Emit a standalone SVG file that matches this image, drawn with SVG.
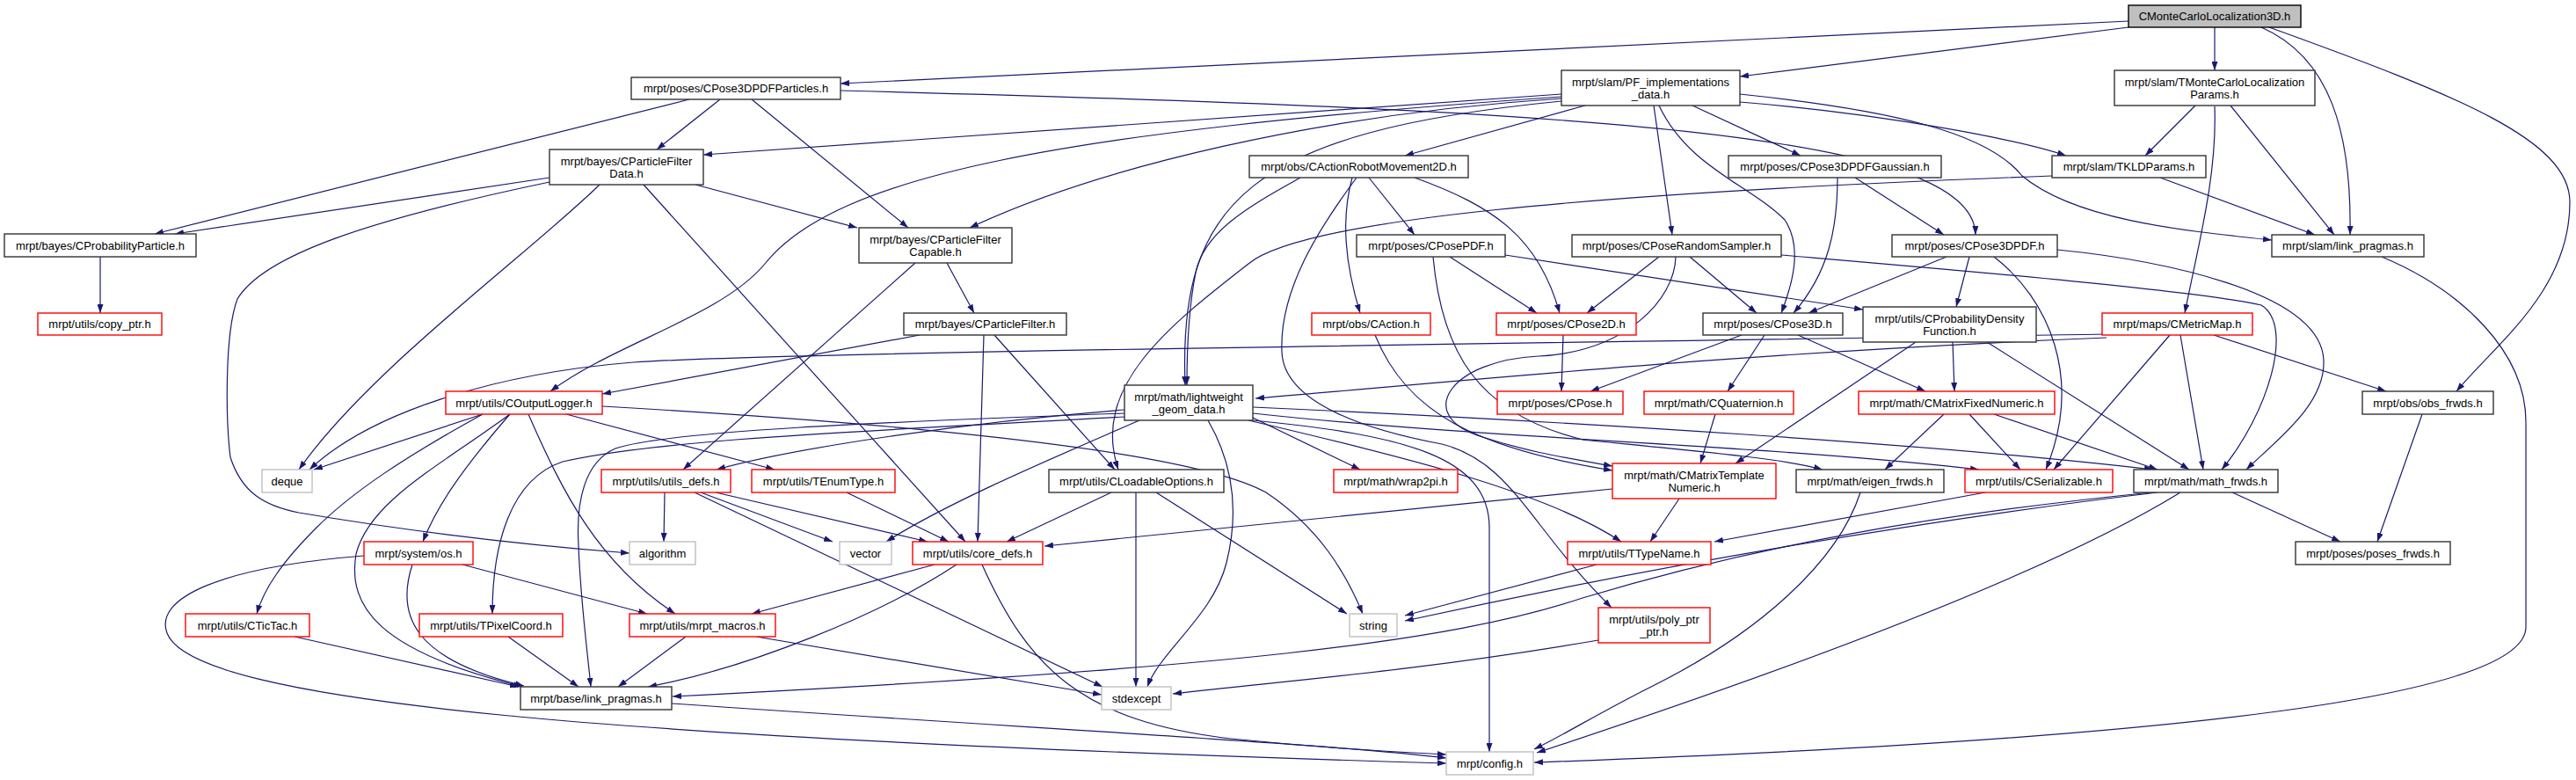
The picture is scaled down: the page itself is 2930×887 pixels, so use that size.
<svg xmlns="http://www.w3.org/2000/svg" width="2930" height="887" viewBox="0 0 2930 887">
<defs>
<marker id="ah" viewBox="0 0 10 7" refX="10" refY="3.5" markerWidth="10" markerHeight="7" markerUnits="userSpaceOnUse" orient="auto"><path d="M0,0 L10,3.5 L0,7 z" fill="#191970"/></marker>
<style>
.e{fill:none;stroke:#191970;stroke-width:1.2;marker-end:url(#ah)}
.n rect{fill:#fff;stroke:#333;stroke-width:1.4}
.r rect{fill:#fff;stroke:#ff0000;stroke-width:1.4}
.g rect{fill:#fff;stroke:#bfbfbf;stroke-width:1.4}
.root rect{fill:#bfbfbf;stroke:#000;stroke-width:1.4}
text{font-family:"Liberation Sans",Arial,sans-serif;font-size:13px;text-anchor:middle;fill:#000}
</style>
</defs>
<rect width="2930" height="887" fill="#fff"/>
<g id="edges">
<path class="e" d="M2421,24 L956,95"/>
<path class="e" d="M2421,31 L1979,87"/>
<path class="e" d="M2519,31 L2519,80"/>
<path class="e" d="M2572,31 C2650,65 2675,150 2673,267"/>
<path class="e" d="M2581,31 C2800,110 2923,160 2923,230 C2923,330 2840,390 2794,445"/>
<path class="e" d="M819,113 L747,170"/>
<path class="e" d="M784,113 L176,266"/>
<path class="e" d="M855,113 L1033,259"/>
<path class="e" d="M956,103 C1800,125 2245,150 2247,267"/>
<path class="e" d="M1776,107 L800,176"/>
<path class="e" d="M1776,112 C1500,130 1250,190 1103,259"/>
<path class="e" d="M1776,110 C1200,150 950,200 870,300 C820,360 700,390 626,445"/>
<path class="e" d="M1776,115 C1420,150 1340,230 1348,438"/>
<path class="e" d="M1803,120 L1598,177"/>
<path class="e" d="M1881,120 L1902,267"/>
<path class="e" d="M1925,120 L2048,177"/>
<path class="e" d="M1979,116 C2150,130 2300,160 2350,177"/>
<path class="e" d="M1979,107 C2150,125 2260,150 2300,200 C2360,250 2480,262 2584,273"/>
<path class="e" d="M1887,120 C1920,190 1990,210 2030,250 C2050,280 2040,320 2026,356"/>
<path class="e" d="M2497,120 L2440,177"/>
<path class="e" d="M2537,120 L2655,267"/>
<path class="e" d="M2519,121 C2522,200 2500,280 2485,356"/>
<path class="e" d="M2457,202 L2633,267"/>
<path class="e" d="M2334,200 C1800,220 1480,250 1420,300 C1330,370 1240,440 1272,534"/>
<path class="e" d="M625,202 L199,266"/>
<path class="e" d="M791,210 L975,259"/>
<path class="e" d="M682,210 C600,290 420,420 340,534"/>
<path class="e" d="M625,207 C420,250 300,290 270,340 C255,380 257,480 262,520 C275,560 300,575 340,583 C470,605 600,620 716,629"/>
<path class="e" d="M732,210 L1098,616"/>
<path class="e" d="M114,292 L114,356"/>
<path class="e" d="M1077,299 L1108,356"/>
<path class="e" d="M1041,299 L777,534"/>
<path class="e" d="M1046,381 L685,448"/>
<path class="e" d="M1131,381 L1268,534"/>
<path class="e" d="M1119,381 L1112,616"/>
<path class="e" d="M1557,202 L1609,267"/>
<path class="e" d="M1538,202 C1525,250 1530,300 1547,356"/>
<path class="e" d="M1609,202 C1700,235 1750,270 1774,356"/>
<path class="e" d="M1479,202 C1430,230 1370,260 1360,310 C1352,350 1350,400 1350,438"/>
<path class="e" d="M1543,202 C1500,260 1455,330 1458,400 C1460,460 1560,490 1640,505 C1720,525 1740,600 1833,691"/>
<path class="e" d="M1649,292 L1748,356"/>
<path class="e" d="M1712,290 L2119,352"/>
<path class="e" d="M1630,292 C1640,400 1680,470 1800,500 C1950,515 2030,522 2073,534"/>
<path class="e" d="M1564,381 C1600,470 1680,510 1834,535"/>
<path class="e" d="M1906,292 C1905,340 1850,400 1750,405 C1650,410 1610,470 1680,495 C1740,515 1790,522 1834,530"/>
<path class="e" d="M1279,466 C1100,480 900,510 815,534"/>
<path class="e" d="M1296,478 C1200,520 1080,570 1008,616"/>
<path class="e" d="M1374,478 C1410,540 1405,600 1395,640 C1380,700 1320,740 1305,781"/>
<path class="e" d="M1279,470 C1000,480 760,490 700,510 C665,525 655,570 658,620 C660,680 668,740 672,781"/>
<path class="e" d="M1279,474 C1000,490 760,498 640,525 C580,545 560,620 560,698"/>
<path class="e" d="M1425,475 L1547,534"/>
<path class="e" d="M1425,470 C1700,500 2000,505 2251,534"/>
<path class="e" d="M1425,463 C1800,480 2200,505 2449,534"/>
<path class="e" d="M1420,478 C1600,520 1760,560 1844,616"/>
<path class="e" d="M1425,478 C1600,495 1694,520 1694,600 L1694,855"/>
<path class="e" d="M549,471 L357,534"/>
<path class="e" d="M549,471 C460,520 400,560 360,600 C320,640 300,670 292,698"/>
<path class="e" d="M580,471 C500,530 420,570 405,630 C395,690 430,740 594,781"/>
<path class="e" d="M580,471 C520,540 495,580 481,616"/>
<path class="e" d="M601,471 C640,560 680,640 768,698"/>
<path class="e" d="M644,471 L881,534"/>
<path class="e" d="M685,462 C1000,480 1350,510 1440,560 C1500,600 1530,650 1550,698"/>
<path class="e" d="M1981,381 L1809,445"/>
<path class="e" d="M2007,381 L1965,445"/>
<path class="e" d="M2045,381 L2190,445"/>
<path class="e" d="M1778,381 L1776,445"/>
<path class="e" d="M1887,292 L1805,356"/>
<path class="e" d="M1922,292 L1998,356"/>
<path class="e" d="M2026,290 C2200,305 2500,330 2572,347 C2610,370 2580,470 2527,534"/>
<path class="e" d="M2090,202 C2090,260 2080,310 2040,356"/>
<path class="e" d="M2110,202 L2211,267"/>
<path class="e" d="M2214,292 L2057,356"/>
<path class="e" d="M2240,292 L2225,349"/>
<path class="e" d="M2268,292 C2330,340 2370,430 2327,534"/>
<path class="e" d="M2340,284 C2450,295 2640,330 2643,410 C2645,460 2590,500 2555,534"/>
<path class="e" d="M2221,389 L2223,445"/>
<path class="e" d="M2179,389 L1974,527"/>
<path class="e" d="M2260,389 L2490,534"/>
<path class="e" d="M2396,380 C1800,390 900,400 720,412 C560,425 420,470 352,534"/>
<path class="e" d="M2396,384 C2000,400 1700,430 1428,453"/>
<path class="e" d="M2468,381 L2336,534"/>
<path class="e" d="M2480,381 L2506,534"/>
<path class="e" d="M2518,381 L2714,445"/>
<path class="e" d="M2211,471 L2144,534"/>
<path class="e" d="M2240,471 L2298,534"/>
<path class="e" d="M2268,471 L2454,534"/>
<path class="e" d="M1951,471 L1934,527"/>
<path class="e" d="M2755,471 L2704,616"/>
<path class="e" d="M756,560 L755,616"/>
<path class="e" d="M790,560 L1254,781"/>
<path class="e" d="M797,560 L947,616"/>
<path class="e" d="M814,560 L1055,616"/>
<path class="e" d="M963,560 L1079,616"/>
<path class="e" d="M1264,560 L1145,616"/>
<path class="e" d="M1315,560 L1532,698"/>
<path class="e" d="M1292,560 L1292,781"/>
<path class="e" d="M1834,556 L1188,621"/>
<path class="e" d="M1910,567 L1877,616"/>
<path class="e" d="M2116,560 C2090,640 2000,720 1880,780 C1820,810 1780,835 1745,852"/>
<path class="e" d="M2258,560 L1950,616"/>
<path class="e" d="M2539,560 L2662,616"/>
<path class="e" d="M2480,560 C2350,640 2100,740 1748,856"/>
<path class="e" d="M2454,560 C2200,590 1900,640 1598,706"/>
<path class="e" d="M2447,560 C2200,585 2000,620 1800,680 C1650,730 1400,760 765,792"/>
<path class="e" d="M469,642 C450,700 470,750 596,780"/>
<path class="e" d="M526,642 L736,698"/>
<path class="e" d="M414,632 C250,645 175,680 190,720 C220,800 700,840 1645,868"/>
<path class="e" d="M1063,642 L855,698"/>
<path class="e" d="M1088,642 C1000,700 850,760 737,781"/>
<path class="e" d="M1117,642 C1170,760 1230,820 1400,840 C1500,850 1580,855 1645,858"/>
<path class="e" d="M780,724 L703,781"/>
<path class="e" d="M860,724 L1253,790"/>
<path class="e" d="M335,724 L590,781"/>
<path class="e" d="M578,724 L658,781"/>
<path class="e" d="M764,800 C1200,830 1500,845 1645,862"/>
<path class="e" d="M1816,642 L1598,700"/>
<path class="e" d="M1818,728 C1600,765 1450,775 1334,789"/>
<path class="e" d="M2709,292 C2800,330 2873,400 2873,480 L2873,713 C2873,790 2500,840 1745,867"/>
</g>
<g id="n0" class="root"><rect x="2421" y="6" width="196" height="25"/><text x="2519" y="23">CMonteCarloLocalization3D.h</text></g>
<g id="n1" class="n"><rect x="718" y="88" width="238" height="25"/><text x="837" y="105">mrpt/poses/CPose3DPDFParticles.h</text></g>
<g id="n2" class="n"><rect x="1776" y="80" width="203" height="40"/><text x="1877.5" y="97.5">mrpt/slam/PF_implementations<tspan x="1877.5" dy="14">_data.h</tspan></text></g>
<g id="n3" class="n"><rect x="2405" y="80" width="228" height="40"/><text x="2519" y="97.5">mrpt/slam/TMonteCarloLocalization<tspan x="2519" dy="14">Params.h</tspan></text></g>
<g id="n4" class="n"><rect x="625" y="170" width="175" height="40"/><text x="712.5" y="187.5">mrpt/bayes/CParticleFilter<tspan x="712.5" dy="14">Data.h</tspan></text></g>
<g id="n5" class="n"><rect x="1421" y="177" width="249" height="25"/><text x="1545.5" y="194">mrpt/obs/CActionRobotMovement2D.h</text></g>
<g id="n6" class="n"><rect x="1966" y="177" width="242" height="25"/><text x="2087" y="194">mrpt/poses/CPose3DPDFGaussian.h</text></g>
<g id="n7" class="n"><rect x="2334" y="177" width="175" height="25"/><text x="2421.5" y="194">mrpt/slam/TKLDParams.h</text></g>
<g id="n8" class="n"><rect x="5" y="266" width="218" height="26"/><text x="114" y="283.5">mrpt/bayes/CProbabilityParticle.h</text></g>
<g id="n9" class="n"><rect x="977" y="259" width="174" height="40"/><text x="1064" y="276.5">mrpt/bayes/CParticleFilter<tspan x="1064" dy="14">Capable.h</tspan></text></g>
<g id="n10" class="n"><rect x="1543" y="267" width="169" height="25"/><text x="1627.5" y="284">mrpt/poses/CPosePDF.h</text></g>
<g id="n11" class="n"><rect x="1788" y="267" width="238" height="25"/><text x="1907" y="284">mrpt/poses/CPoseRandomSampler.h</text></g>
<g id="n12" class="n"><rect x="2152" y="267" width="188" height="25"/><text x="2246" y="284">mrpt/poses/CPose3DPDF.h</text></g>
<g id="n13" class="n"><rect x="2584" y="267" width="173" height="25"/><text x="2670.5" y="284">mrpt/slam/link_pragmas.h</text></g>
<g id="n14" class="r"><rect x="43" y="356" width="141" height="25"/><text x="113.5" y="373">mrpt/utils/copy_ptr.h</text></g>
<g id="n15" class="n"><rect x="1028" y="356" width="185" height="25"/><text x="1120.5" y="373">mrpt/bayes/CParticleFilter.h</text></g>
<g id="n16" class="r"><rect x="1492" y="356" width="135" height="25"/><text x="1559.5" y="373">mrpt/obs/CAction.h</text></g>
<g id="n17" class="r"><rect x="1702" y="356" width="159" height="25"/><text x="1781.5" y="373">mrpt/poses/CPose2D.h</text></g>
<g id="n18" class="n"><rect x="1937" y="356" width="159" height="25"/><text x="2016.5" y="373">mrpt/poses/CPose3D.h</text></g>
<g id="n19" class="n"><rect x="2119" y="349" width="197" height="40"/><text x="2217.5" y="366.5">mrpt/utils/CProbabilityDensity<tspan x="2217.5" dy="14">Function.h</tspan></text></g>
<g id="n20" class="r"><rect x="2391" y="356" width="171" height="25"/><text x="2476.5" y="373">mrpt/maps/CMetricMap.h</text></g>
<g id="n21" class="r"><rect x="507" y="445" width="178" height="26"/><text x="596" y="462.5">mrpt/utils/COutputLogger.h</text></g>
<g id="n22" class="n"><rect x="1279" y="438" width="146" height="40"/><text x="1352" y="455.5">mrpt/math/lightweight<tspan x="1352" dy="14">_geom_data.h</tspan></text></g>
<g id="n23" class="r"><rect x="1703" y="445" width="143" height="26"/><text x="1774.5" y="462.5">mrpt/poses/CPose.h</text></g>
<g id="n24" class="r"><rect x="1870" y="445" width="170" height="26"/><text x="1955" y="462.5">mrpt/math/CQuaternion.h</text></g>
<g id="n25" class="r"><rect x="2114" y="445" width="223" height="26"/><text x="2225.5" y="462.5">mrpt/math/CMatrixFixedNumeric.h</text></g>
<g id="n26" class="n"><rect x="2687" y="445" width="149" height="26"/><text x="2761.5" y="462.5">mrpt/obs/obs_frwds.h</text></g>
<g id="n27" class="g"><rect x="298" y="534" width="57" height="26"/><text x="326.5" y="551.5">deque</text></g>
<g id="n28" class="r"><rect x="684" y="534" width="147" height="26"/><text x="757.5" y="551.5">mrpt/utils/utils_defs.h</text></g>
<g id="n29" class="r"><rect x="855" y="534" width="163" height="26"/><text x="936.5" y="551.5">mrpt/utils/TEnumType.h</text></g>
<g id="n30" class="n"><rect x="1193" y="534" width="199" height="26"/><text x="1292.5" y="551.5">mrpt/utils/CLoadableOptions.h</text></g>
<g id="n31" class="r"><rect x="1517" y="534" width="141" height="26"/><text x="1587.5" y="551.5">mrpt/math/wrap2pi.h</text></g>
<g id="n32" class="r"><rect x="1834" y="527" width="186" height="40"/><text x="1927" y="544.5">mrpt/math/CMatrixTemplate<tspan x="1927" dy="14">Numeric.h</tspan></text></g>
<g id="n33" class="n"><rect x="2043" y="534" width="168" height="26"/><text x="2127" y="551.5">mrpt/math/eigen_frwds.h</text></g>
<g id="n34" class="r"><rect x="2235" y="534" width="168" height="26"/><text x="2319" y="551.5">mrpt/utils/CSerializable.h</text></g>
<g id="n35" class="n"><rect x="2427" y="534" width="164" height="26"/><text x="2509" y="551.5">mrpt/math/math_frwds.h</text></g>
<g id="n36" class="r"><rect x="414" y="616" width="124" height="26"/><text x="476" y="633.5">mrpt/system/os.h</text></g>
<g id="n37" class="g"><rect x="716" y="616" width="75" height="26"/><text x="753.5" y="633.5">algorithm</text></g>
<g id="n38" class="g"><rect x="955" y="616" width="59" height="26"/><text x="984.5" y="633.5">vector</text></g>
<g id="n39" class="r"><rect x="1038" y="616" width="148" height="26"/><text x="1112" y="633.5">mrpt/utils/core_defs.h</text></g>
<g id="n40" class="r"><rect x="1783" y="616" width="163" height="26"/><text x="1864.5" y="633.5">mrpt/utils/TTypeName.h</text></g>
<g id="n41" class="n"><rect x="2611" y="616" width="176" height="26"/><text x="2699" y="633.5">mrpt/poses/poses_frwds.h</text></g>
<g id="n42" class="r"><rect x="211" y="698" width="141" height="26"/><text x="281.5" y="715.5">mrpt/utils/CTicTac.h</text></g>
<g id="n43" class="r"><rect x="477" y="698" width="163" height="26"/><text x="558.5" y="715.5">mrpt/utils/TPixelCoord.h</text></g>
<g id="n44" class="r"><rect x="716" y="698" width="166" height="26"/><text x="799" y="715.5">mrpt/utils/mrpt_macros.h</text></g>
<g id="n45" class="g"><rect x="1535" y="698" width="54" height="26"/><text x="1562" y="715.5">string</text></g>
<g id="n46" class="r"><rect x="1818" y="691" width="127" height="40"/><text x="1881.5" y="708.5">mrpt/utils/poly_ptr<tspan x="1881.5" dy="14">_ptr.h</tspan></text></g>
<g id="n47" class="n"><rect x="592" y="781" width="172" height="26"/><text x="678" y="798.5">mrpt/base/link_pragmas.h</text></g>
<g id="n48" class="g"><rect x="1253" y="781" width="79" height="26"/><text x="1292.5" y="798.5">stdexcept</text></g>
<g id="n49" class="g"><rect x="1645" y="855" width="99" height="26"/><text x="1694.5" y="872.5">mrpt/config.h</text></g>
</svg>
